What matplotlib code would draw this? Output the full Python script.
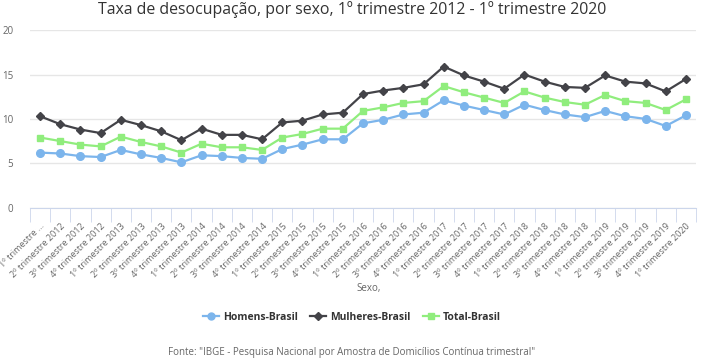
import matplotlib.pyplot as plt
from matplotlib.lines import Line2D

plt.rcParams['font.family'] = ['Open Sans', 'DejaVu Sans']

# trimestres 2012 Q1 .. 2020 Q1
anos = [2012] * 4 + [2013] * 4 + [2014] * 4 + [2015] * 4 + [2016] * 4 + [2017] * 4 + [2018] * 4 + [2019] * 4 + [2020]
trimestres = [1, 2, 3, 4] * 8 + [1]
rotulos = ["%dº trimestre %d" % (t, a) for t, a in zip(trimestres, anos)]
rotulos[0] = "1º trimestre ..."

homens = [6.2, 6.1, 5.8, 5.7, 6.5, 6.0, 5.6, 5.1, 5.9, 5.8, 5.6, 5.5,
          6.6, 7.1, 7.7, 7.7, 9.5, 9.9, 10.5, 10.7, 12.1, 11.5, 11.0, 10.5,
          11.6, 11.0, 10.5, 10.2, 10.9, 10.3, 10.0, 9.2, 10.4]
mulheres = [10.3, 9.4, 8.8, 8.4, 9.9, 9.3, 8.6, 7.6, 8.9, 8.2, 8.2, 7.7,
            9.6, 9.8, 10.5, 10.7, 12.8, 13.2, 13.5, 13.9, 15.9, 14.9, 14.2, 13.4,
            15.0, 14.2, 13.6, 13.5, 14.9, 14.2, 14.0, 13.1, 14.5]
total = [7.9, 7.5, 7.1, 6.9, 8.0, 7.4, 6.9, 6.2, 7.2, 6.8, 6.8, 6.5,
         7.9, 8.3, 8.9, 8.9, 10.9, 11.3, 11.8, 12.0, 13.7, 13.0, 12.4, 11.8,
         13.1, 12.4, 11.9, 11.6, 12.7, 12.0, 11.8, 11.0, 12.2]

cores = {"Homens-Brasil": "#7cb5ec", "Mulheres-Brasil": "#434348", "Total-Brasil": "#90ed7d"}

fig = plt.figure(figsize=(7.04, 3.6), dpi=100)
ax = fig.add_axes([30 / 704, 1 - 207.6 / 360, 666 / 704, 177.4 / 360])

x = list(range(len(rotulos)))
ax.plot(x, homens, color=cores["Homens-Brasil"], marker="o", markersize=5.5, lw=1.6)
ax.plot(x, mulheres, color=cores["Mulheres-Brasil"], marker="D", markersize=4, lw=1.6)
ax.plot(x, total, color=cores["Total-Brasil"], marker="s", markersize=5, lw=1.6)

ax.set_xlim(-0.5, len(rotulos) - 0.5)
ax.set_ylim(0, 20)
ax.set_yticks([0, 5, 10, 15, 20])
ax.grid(axis="y", color="#e6e6e6", lw=1)
ax.set_axisbelow(True)
for s in ["top", "right", "left"]:
    ax.spines[s].set_visible(False)
ax.spines["bottom"].set_color("#ccd6eb")
ax.tick_params(axis="y", length=0, labelsize=7, labelcolor="#666666", pad=12)

ax.set_xticks(x)
ax.set_xticklabels(rotulos, rotation=45, ha="right", rotation_mode="anchor",
                   fontsize=6.5, color="#666666")
ax.tick_params(axis="x", length=0, pad=10)
ax.set_xticks([i - 0.5 for i in range(len(rotulos) + 1)], minor=True)
ax.tick_params(axis="x", which="minor", length=10, color="#ccd6eb")

fig.text(356 / 704, 1 - 288 / 360, "Sexo,", fontsize=7, color="#666666", ha="left", va="center")

fig.suptitle("Taxa de desocupação, por sexo, 1º trimestre 2012 - 1º trimestre 2020",
             y=1 - 10 / 360, va="center", fontsize=11.4, color="#333333")

handles = [Line2D([], [], color=cores["Homens-Brasil"], marker="o", markersize=5, lw=1.6),
           Line2D([], [], color=cores["Mulheres-Brasil"], marker="D", markersize=4, lw=1.6),
           Line2D([], [], color=cores["Total-Brasil"], marker="s", markersize=5, lw=1.6)]
leg = fig.legend(handles, list(cores.keys()), loc="center", bbox_to_anchor=(352 / 704, 1 - 317 / 360),
                 ncol=3, frameon=False, handlelength=1.5, columnspacing=1.2, handletextpad=0.4,
                 prop={"size": 7.5, "weight": "bold"})
for t in leg.get_texts():
    t.set_color("#333333")

fig.text(352 / 704, 1 - 353 / 360,
         "Fonte: \"IBGE - Pesquisa Nacional por Amostra de Domicílios Contínua trimestral\"",
         ha="center", va="center", fontsize=7, color="#666666")

fig.savefig("out.png", dpi=100)
